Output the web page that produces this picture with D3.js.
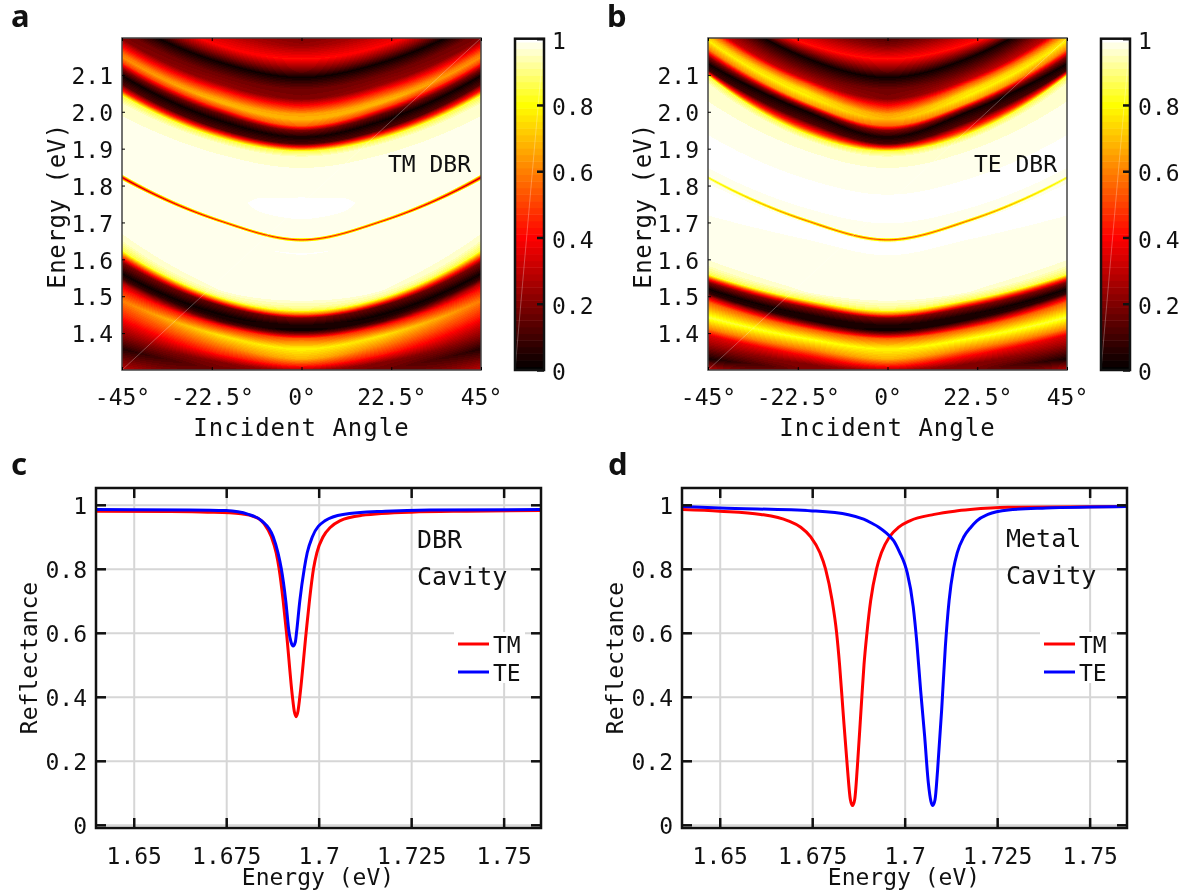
<!DOCTYPE html>
<html><head><meta charset="utf-8">
<script src="https://cdn.jsdelivr.net/npm/d3@7"></script>
<style>
html,body{margin:0;padding:0;background:#fff}
#wrap{position:relative;width:1185px;height:894px;overflow:hidden}
canvas{position:absolute}
svg{position:absolute;left:0;top:0}
text{font-family:"DejaVu Sans Mono",monospace;fill:#111;white-space:pre}
</style></head><body><div id="wrap"></div>
<script>
// ---------- heat-map readings: energy (eV) and reflectance of matched band features at three angles
const anglesRead = [0, 20.4, 45];
const tmEnergy0  = [2.200,2.179,2.143,2.121,2.093,2.062,2.035,2.017,1.994,1.980,1.962,1.949,1.931,1.913,1.902,1.893,1.877,1.804,1.779,1.755,1.740,1.723,1.696,1.658,1.653,1.647,1.622,1.615,1.608,1.506,1.488,1.470,1.461,1.450,1.441,1.421,1.407,1.398,1.385,1.357,1.330,1.312,1.301,1.272,1.217];
const tmValue0   = [.20,.24,.42,.25,.02,.17,.20,.40,.65,.69,.55,.20,.03,.12,.50,.85,.96,.985,.985,.996,1,.996,.985,.985,.45,.985,.985,.993,.985,.98,.97,.92,.85,.55,.20,.04,.02,.20,.55,.79,.68,.45,.28,.10,.20];
const tmEnergy20 = [2.236,2.215,2.179,2.157,2.134,2.102,2.075,2.057,2.035,2.026,2.010,1.994,1.976,1.953,1.940,1.929,1.913,1.841,1.809,1.785,1.768,1.752,1.728,1.710,1.704,1.699,1.669,1.662,1.655,1.538,1.516,1.502,1.496,1.488,1.475,1.452,1.441,1.432,1.421,1.394,1.367,1.344,1.321,1.301,1.254];
const tmValue20  = [.25,.30,.40,.22,.02,.17,.24,.45,.66,.69,.50,.15,.02,.13,.50,.85,.96,.985,.985,.985,.985,.985,.985,.985,.42,.985,.985,.985,.985,.98,.97,.92,.85,.60,.15,.02,.05,.12,.42,.76,.60,.45,.20,.18,.20];
const tmEnergy45 = [2.364,2.346,2.310,2.279,2.251,2.220,2.198,2.179,2.158,2.148,2.134,2.116,2.098,2.075,2.057,2.044,2.021,1.940,1.913,1.881,1.869,1.857,1.832,1.831,1.822,1.814,1.777,1.770,1.763,1.669,1.651,1.637,1.624,1.610,1.592,1.561,1.547,1.534,1.520,1.488,1.448,1.416,1.389,1.357,1.301];
const tmValue45  = [.20,.30,.40,.22,.02,.17,.20,.38,.58,.62,.50,.20,.02,.13,.45,.85,.96,.985,.98,.98,.98,.98,.985,.985,.28,.985,.985,.985,.985,.97,.95,.90,.85,.55,.20,.02,.10,.30,.42,.60,.45,.30,.20,.05,.30];

const teEnergy0  = [2.200,2.179,2.143,2.121,2.093,2.062,2.035,2.017,1.994,1.980,1.962,1.949,1.931,1.913,1.902,1.893,1.877,1.804,1.779,1.768,1.705,1.694,1.658,1.653,1.647,1.640,1.617,1.608,1.506,1.488,1.470,1.461,1.450,1.441,1.421,1.407,1.398,1.385,1.357,1.330,1.312,1.301,1.272,1.217];
const teValue0   = [.12,.20,.42,.25,.02,.17,.20,.40,.65,.69,.55,.20,.03,.12,.50,.85,.96,.985,.985,1,1,.985,.985,.50,.985,1,1,.985,.98,.97,.92,.85,.55,.20,.04,.02,.20,.55,.79,.68,.45,.28,.10,.20];
const teEnergy20 = [2.236,2.215,2.184,2.164,2.146,2.111,2.089,2.075,2.057,2.044,2.026,2.012,2.001,1.974,1.953,1.940,1.924,1.850,1.823,1.809,1.746,1.735,1.711,1.705,1.700,1.692,1.660,1.651,1.534,1.511,1.497,1.490,1.481,1.470,1.450,1.436,1.427,1.412,1.385,1.357,1.339,1.317,1.299,1.254];
const teValue20  = [.20,.30,.42,.20,.02,.18,.30,.55,.75,.78,.65,.20,.02,.13,.50,.85,.96,.985,.985,1,1,.985,.985,.55,.985,1,1,.985,.98,.97,.90,.85,.55,.20,.03,.05,.20,.55,.82,.60,.40,.20,.20,.20];
const teEnergy45 = [2.373,2.346,2.310,2.306,2.301,2.274,2.238,2.220,2.206,2.193,2.170,2.149,2.130,2.113,2.104,2.098,2.075,1.958,1.940,1.931,1.854,1.845,1.827,1.822,1.816,1.786,1.728,1.714,1.606,1.583,1.568,1.559,1.549,1.538,1.520,1.508,1.499,1.484,1.443,1.412,1.394,1.371,1.330,1.301];
const teValue45  = [.20,.30,.42,.20,.02,.18,.30,.55,.70,.78,.60,.20,.02,.10,.50,.85,.96,.985,.985,1,1,.985,.985,.80,.985,1,1,.985,.98,.95,.90,.85,.50,.20,.02,.08,.30,.55,.85,.60,.35,.25,.03,.30];

// ---------- reflectance spectra
const cTmEnergy = [1.64,1.66,1.67,1.679,1.684,1.6853,1.6872,1.6885,1.6893,1.6904,1.6913,1.6929,1.6934,1.6939,1.6944,1.6949,1.6966,1.6975,1.6986,1.6995,1.7012,1.7032,1.7057,1.7116,1.725,1.74,1.76];
const cTmValue  = [.98,.979,.977,.972,.955,.94,.90,.85,.80,.70,.60,.40,.355,.338,.355,.40,.60,.70,.80,.85,.90,.93,.95,.967,.977,.98,.982];
const cTeEnergy = [1.64,1.665,1.675,1.681,1.6846,1.6877,1.689,1.6899,1.6911,1.692,1.6925,1.6931,1.6937,1.694,1.6949,1.6961,1.6969,1.6983,1.7017,1.7066,1.718,1.73,1.76];
const cTeValue  = [.985,.984,.982,.97,.95,.90,.85,.80,.70,.60,.572,.559,.572,.60,.70,.80,.85,.90,.95,.97,.98,.984,.985];
const dTmEnergy = [1.64,1.65,1.6611,1.6685,1.6719,1.6746,1.6771,1.6786,1.6804,1.6816,1.6824,1.6833,1.6845,1.6853,1.6859,1.6865,1.6872,1.6882,1.689,1.6898,1.6908,1.6924,1.6937,1.6959,1.6984,1.7014,1.708,1.7135,1.7177,1.728,1.76];
const dTmValue  = [.985,.98,.97,.95,.93,.90,.85,.80,.70,.60,.50,.36,.18,.08,.06,.08,.18,.36,.50,.60,.70,.80,.85,.90,.93,.95,.97,.98,.985,.992,.995];
const dTeEnergy = [1.64,1.65,1.675,1.6848,1.6889,1.691,1.693,1.695,1.6961,1.697,1.6987,1.70,1.7007,1.7023,1.7033,1.7043,1.7054,1.7064,1.7071,1.7076,1.7082,1.7089,1.71,1.711,1.712,1.7132,1.7142,1.716,1.7179,1.7195,1.7225,1.728,1.7382,1.76];
const dTeValue  = [.995,.99,.981,.969,.955,.943,.93,.912,.90,.888,.85,.815,.787,.682,.568,.422,.276,.13,.073,.06,.078,.172,.36,.558,.70,.80,.85,.90,.93,.95,.97,.984,.99,.995];

// ---------- axis ticks and labels
const angleTicks = [-45,-22.5,0,22.5,45];
const energyTicks = [1.4,1.5,1.6,1.7,1.8,1.9,2.0,2.1];
const colorTicks = [0,.2,.4,.6,.8,1];
const spectrumXTicks = [1.65,1.675,1.7,1.725,1.75];
const reflectTicks = [0,.2,.4,.6,.8,1];
const seriesNames = ["TM","TE"];
const seriesColors = ["#ff0000","#0000ff"];

const wrap = d3.select("#wrap");
const svg = wrap.append("svg").attr("width",1185).attr("height",894);
const TS = 23;

const hot = d3.scaleLinear().domain([0,.4,.8,1]).range(["#000000","#ff0000","#ffff00","#ffffff"]).clamp(true);
const quant = v => v>=.99?1:(v>=.97?.985:Math.round(v*50)/50);

function heat(ox, energy, value, note, letter, letterX){
  const W=359, H=332, top=38;
  const x=d3.scaleLinear().domain([-45,45]).range([ox,ox+W]);
  const y=d3.scaleLinear().domain([1.3,2.2]).range([top+H,top]);
  const cv=wrap.insert("canvas","svg").attr("width",W).attr("height",H)
    .style("left",ox+"px").style("top",top+"px").node();
  const ctx=cv.getContext("2d");
  const n=energy[0].length;
  const t1=anglesRead[1], t2=anglesRead[2], span=t2-t1;
  for(let i=0;i<W;i++){
    const th=Math.abs(x.invert(ox+i+.5));
    const knots=[];
    for(let k=0;k<n;k++){
      const e0=energy[0][k], e1=energy[1][k], e2=energy[2][k];
      const sec1=(e1-e0)/t1, sec2=(e2-e1)/span;
      const m1=(sec1*span+sec2*t1)/t2;   // smooth slope through the middle reading
      let E,R;
      if(th<=t1){
        const s=th/t1, d1=e1-e0, M=t1*m1;
        E=e0+(3*d1-M)*s*s+(M-2*d1)*s*s*s;
        R=value[0][k]+(value[1][k]-value[0][k])*s;
      }else{
        const dl=th-t1, s=dl/span;
        E=e1+m1*dl+(sec2-m1)*dl*s;
        R=value[1][k]+(value[2][k]-value[1][k])*s;
      }
      knots.push([E,R]);
    }
    knots.sort((a,b)=>b[0]-a[0]);
    let k=0;
    for(let j=0;j<H;j++){
      const E=y.invert(top+j+.5);
      while(k<n-2&&E<knots[k+1][0])k++;
      const a=knots[k],b=knots[k+1];
      const t=Math.max(0,Math.min(1,(a[0]-E)/((a[0]-b[0])||1)));
      const r=a[1]+(b[1]-a[1])*t;
      ctx.fillStyle=hot(quant(r));
      ctx.fillRect(i,j,1,1);
    }
  }
  const g=svg.append("g");
  g.append("line").attr("x1",ox).attr("y1",top+H).attr("x2",ox+W).attr("y2",top)
    .attr("stroke","#fff").attr("stroke-opacity",.4).attr("stroke-width",.7);
  g.append("rect").attr("x",ox).attr("y",top).attr("width",W).attr("height",H)
    .attr("fill","none").attr("stroke","#444").attr("stroke-width",1.5);
  const ax=g.append("g").attr("transform",`translate(0,${top+H})`)
    .call(d3.axisBottom(x).tickValues(angleTicks).tickSize(-3).tickPadding(19).tickFormat(d=>d+"°"));
  ax.select(".domain").remove();
  ax.selectAll("text").attr("font-size",TS);
  const at=g.append("g").attr("transform",`translate(0,${top})`)
    .call(d3.axisTop(x).tickValues(angleTicks).tickSize(-3).tickFormat(""));
  at.select(".domain").remove();
  const ay=g.append("g").attr("transform",`translate(${ox},0)`)
    .call(d3.axisLeft(y).tickValues(energyTicks).tickSize(-3).tickPadding(9).tickFormat(d3.format(".1f")));
  ay.select(".domain").remove();
  ay.selectAll("text").attr("font-size",TS).attr("dy","0.38em");
  g.append("text").attr("x",ox+W/2).attr("y",436).attr("text-anchor","middle").attr("font-size",24).attr("letter-spacing",1).text("Incident Angle");
  g.append("text").attr("transform",`translate(${ox-57},206) rotate(-90)`).attr("text-anchor","middle").attr("font-size",24).attr("letter-spacing",.6).text("Energy (eV)");
  g.append("text").attr("x",ox+W-10).attr("y",172).attr("text-anchor","end").attr("font-size",23).text(note);
  // colour bar
  const cx=ox+393, cw=29;
  const cy=d3.scaleLinear().domain([0,1]).range([370,38.7]);
  const levels=d3.range(0,51).map(d=>d/50);
  g.append("g").selectAll("rect").data(levels).join("rect")
    .attr("x",cx).attr("width",cw)
    .attr("y",d=>cy(Math.min(1,d+.01))).attr("height",d=>cy(Math.max(0,d-.01))-cy(Math.min(1,d+.01))+.5)
    .attr("fill",d=>hot(d));
  g.append("line").attr("x1",cx).attr("y1",370).attr("x2",cx+cw).attr("y2",38.7)
    .attr("stroke","#fff").attr("stroke-opacity",.4).attr("stroke-width",.7);
  g.append("rect").attr("x",cx).attr("y",38.7).attr("width",cw).attr("height",331.3)
    .attr("fill","none").attr("stroke","#111").attr("stroke-width",2.5);
  const ac=g.append("g").attr("transform",`translate(${cx+cw},0)`)
    .call(d3.axisRight(cy).tickValues(colorTicks).tickSize(-7).tickPadding(8).tickFormat(d=>d===0||d===1?d:d3.format(".1f")(d)));
  ac.select(".domain").remove();
  ac.selectAll("line").attr("stroke","#111").attr("stroke-width",2.5);
  ac.selectAll("text").attr("font-size",TS).attr("dy","0.42em");
  svg.append("text").attr("x",letterX).attr("y",27).style("font-family","'Noto Sans',sans-serif").style("font-weight",700).attr("font-size",31).text(letter);
}

function spectrum(ox, series, notes, letter, letterX){
  const W=445, top=488, bottom=828;
  const x=d3.scaleLinear().domain([1.6398,1.7601]).range([ox,ox+W]);
  const y=d3.scaleLinear().domain([-.01,1.0525]).range([bottom,top]);
  const g=svg.append("g");
  const clip="clip"+letter;
  g.append("clipPath").attr("id",clip).append("rect").attr("x",ox).attr("y",top).attr("width",W).attr("height",bottom-top);
  const gx=g.append("g").attr("transform",`translate(0,${top})`)
    .call(d3.axisBottom(x).tickValues(spectrumXTicks).tickSize(bottom-top).tickFormat(""));
  gx.select(".domain").remove(); gx.selectAll("line").attr("stroke","#d6d6d6").attr("stroke-width",2);
  const gy=g.append("g").attr("transform",`translate(${ox},0)`)
    .call(d3.axisRight(y).tickValues(reflectTicks).tickSize(W).tickFormat(""));
  gy.select(".domain").remove(); gy.selectAll("line").attr("stroke","#d6d6d6").attr("stroke-width",2);
  // legend backing cuts the grid
  g.append("rect").attr("x",ox+358).attr("y",632).attr("width",71).attr("height",51).attr("fill","#fff");
  const line=d3.line().x(d=>x(d[0])).y(d=>y(d[1])).curve(d3.curveMonotoneX);
  g.append("g").attr("clip-path",`url(#${clip})`).selectAll("path").data(series).join("path")
    .attr("d",d=>line(d3.zip(d.energy,d.value))).attr("fill","none")
    .attr("stroke",(d,i)=>seriesColors[i]).attr("stroke-width",3);
  g.append("rect").attr("x",ox).attr("y",top).attr("width",W).attr("height",bottom-top)
    .attr("fill","none").attr("stroke","#111").attr("stroke-width",2.5);
  const ticks=(gen,tx,ty,vals,fmt,size,pad)=>{
    const a=g.append("g").attr("transform",`translate(${tx},${ty})`)
      .call(gen.tickValues(vals).tickSize(size).tickPadding(pad).tickFormat(fmt));
    a.select(".domain").remove();
    a.selectAll("line").attr("stroke","#111").attr("stroke-width",2.5);
    a.selectAll("text").attr("font-size",TS);
    return a;
  };
  ticks(d3.axisBottom(x),0,bottom,spectrumXTicks,d=>d3.format("")(d),-10,20);
  ticks(d3.axisTop(x),0,top,spectrumXTicks,"",-10,0);
  const fy=d=>d===0||d===1?d:d3.format(".1f")(d);
  ticks(d3.axisLeft(y),ox,0,reflectTicks,fy,-10,9).selectAll("text").attr("dy","0.36em");
  ticks(d3.axisRight(y),ox+W,0,reflectTicks,"",-10,0);
  g.append("text").attr("x",ox+222).attr("y",885).attr("text-anchor","middle").attr("font-size",23).text("Energy (eV)");
  g.append("text").attr("transform",`translate(${ox-59},658) rotate(-90)`).attr("text-anchor","middle").attr("font-size",23).text("Reflectance");
  notes.forEach((t,i)=>g.append("text").attr("x",ox+(letter==="c"?321:324)).attr("y",(letter==="c"?548:546.5)+i*37).attr("font-size",25).text(t));
  const leg=g.append("g").selectAll("g").data(seriesNames).join("g").attr("transform",(d,i)=>`translate(${ox+362},${644+i*28})`);
  leg.append("line").attr("x1",0).attr("x2",31).attr("stroke",(d,i)=>seriesColors[i]).attr("stroke-width",3);
  leg.append("text").attr("x",35).attr("y",8.5).attr("font-size",TS).text(d=>d);
  svg.append("text").attr("x",letterX).attr("y",475).style("font-family","'Noto Sans',sans-serif").style("font-weight",700).attr("font-size",31).text(letter);
}

heat(122,[tmEnergy0,tmEnergy20,tmEnergy45],[tmValue0,tmValue20,tmValue45],"TM DBR","a",11);
heat(708,[teEnergy0,teEnergy20,teEnergy45],[teValue0,teValue20,teValue45],"TE DBR","b",607);
spectrum(96,[{energy:cTmEnergy,value:cTmValue},{energy:cTeEnergy,value:cTeValue}],["DBR","Cavity"],"c",11);
spectrum(682,[{energy:dTmEnergy,value:dTmValue},{energy:dTeEnergy,value:dTeValue}],["Metal","Cavity"],"d",608);
</script></body></html>
